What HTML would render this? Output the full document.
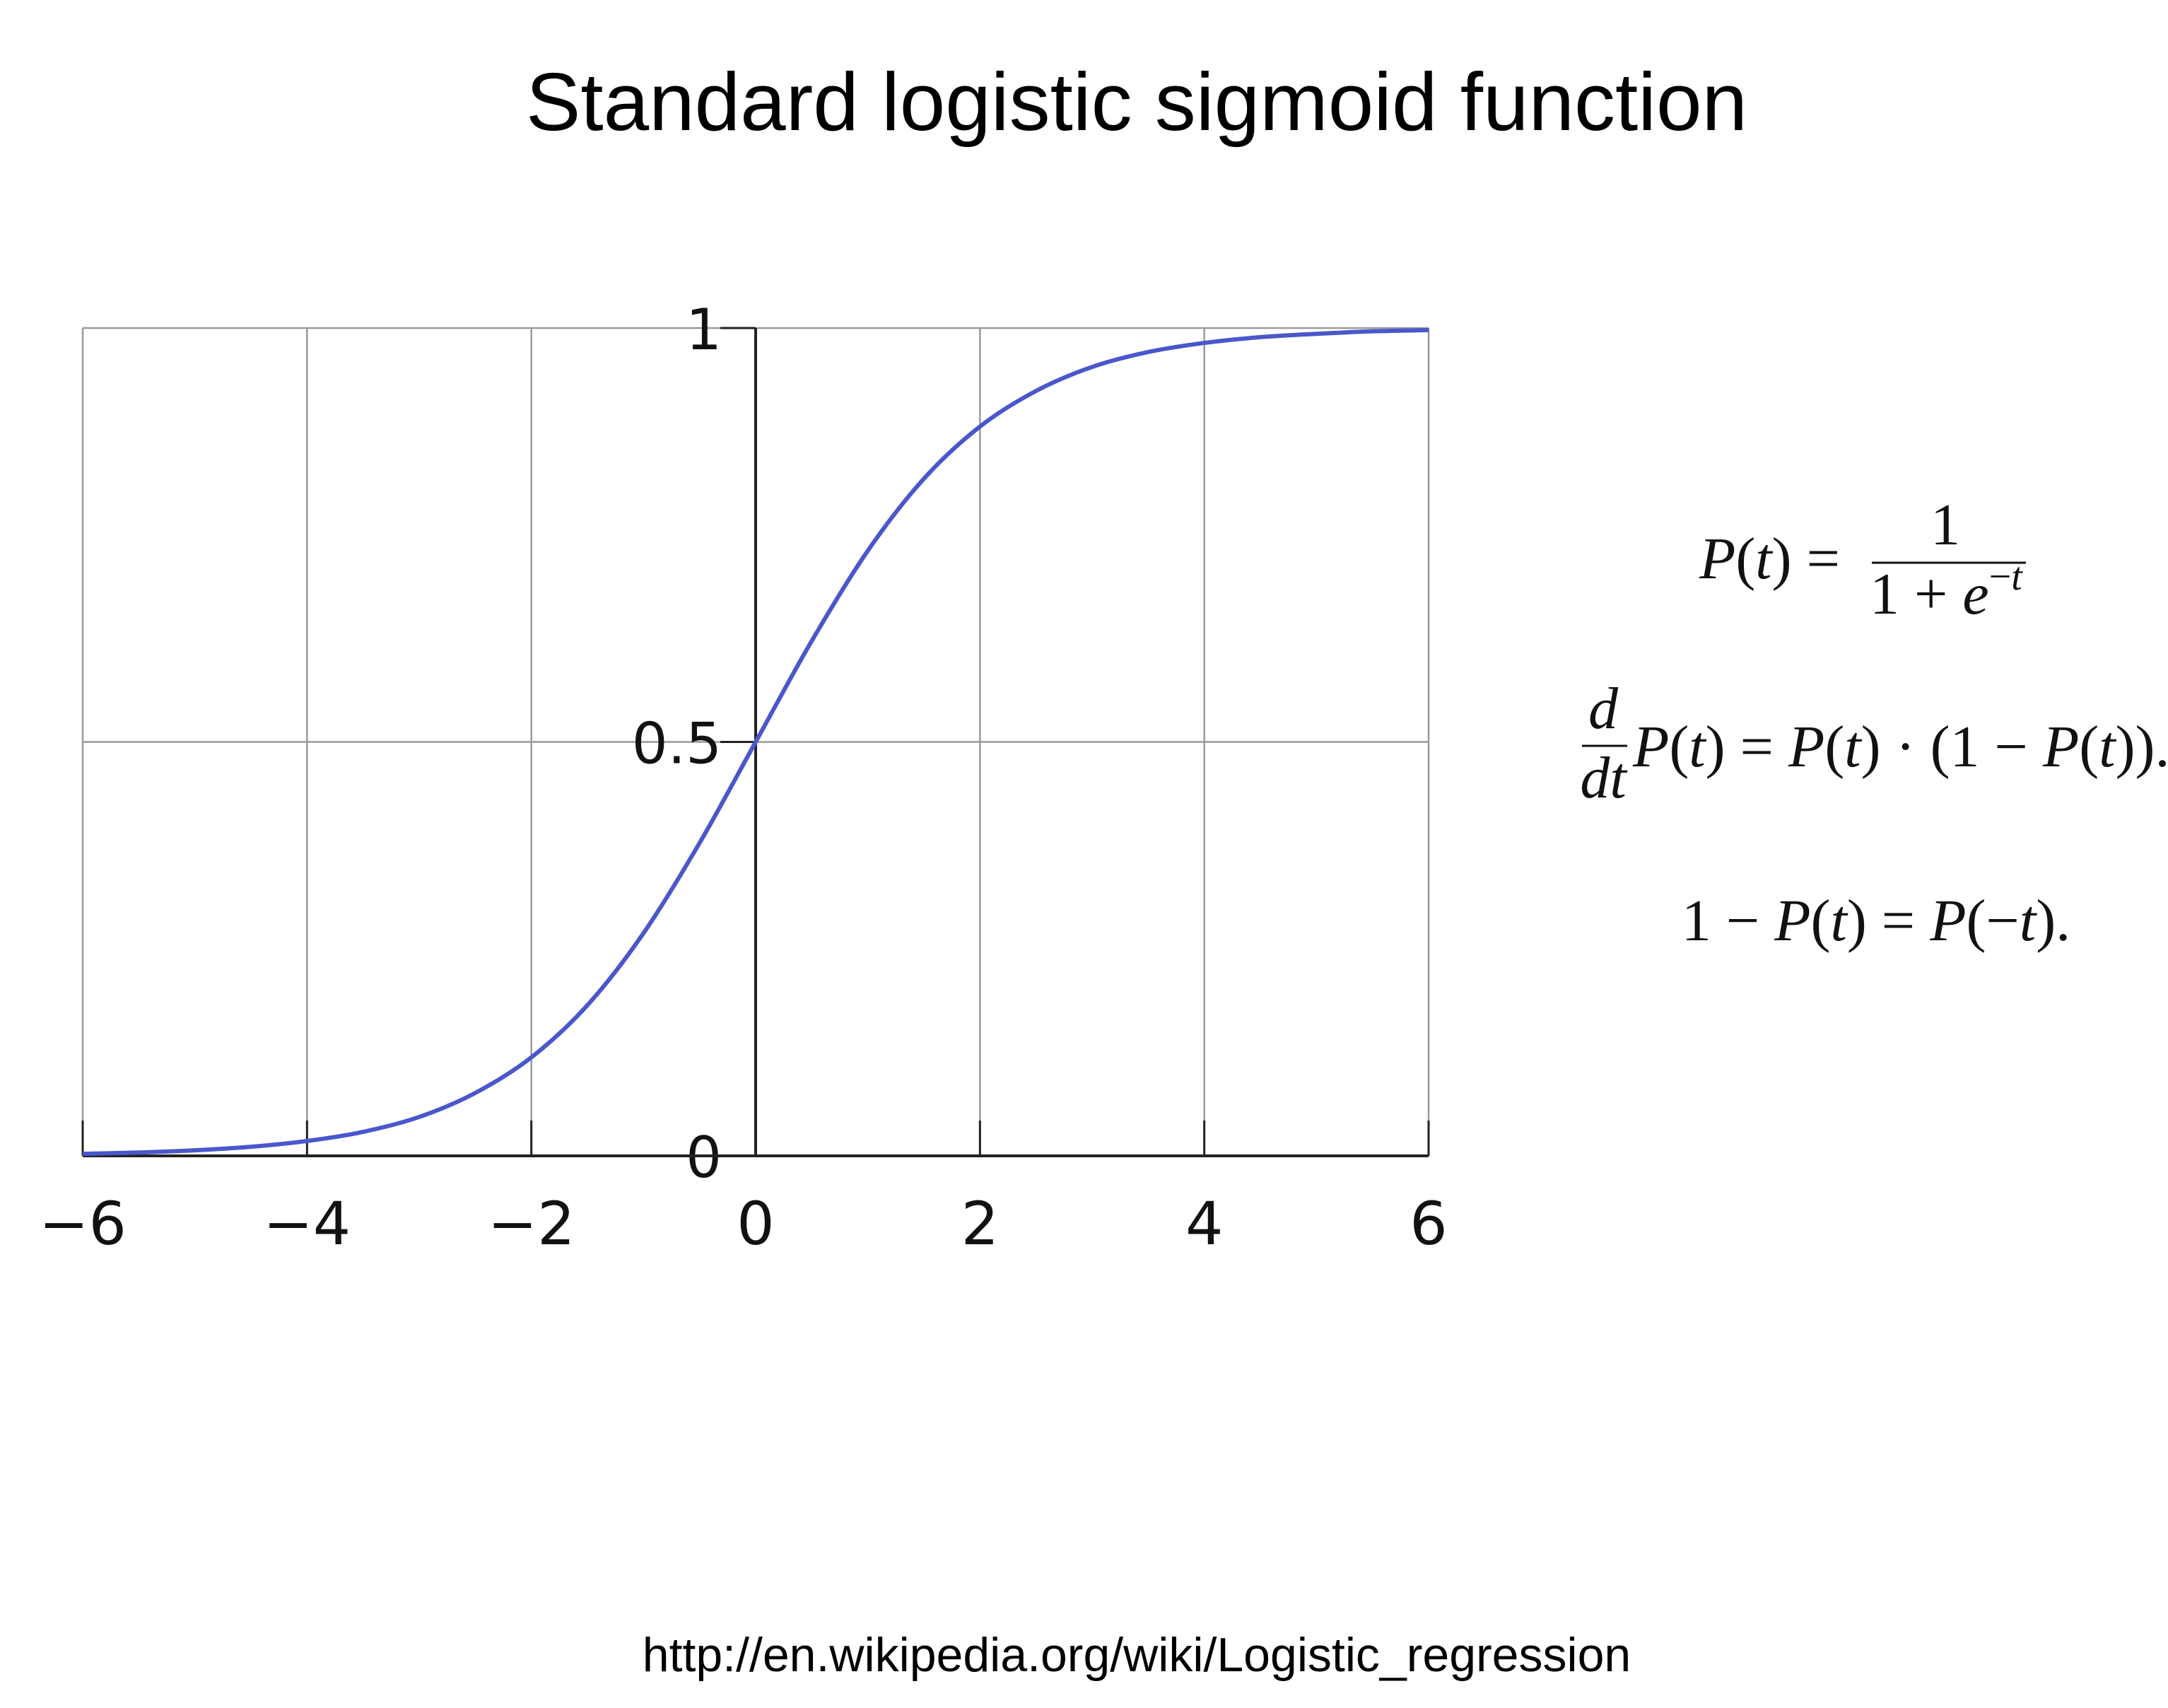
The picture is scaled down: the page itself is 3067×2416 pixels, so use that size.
<!DOCTYPE html>
<html><head><meta charset="utf-8"><style>
html,body{margin:0;padding:0;background:#fff;}
svg{display:block;}
.eq{font-family:"Liberation Serif",serif;font-size:84px;fill:#111;}
.it{font-style:italic;}
</style></head><body>
<svg id="chart" width="3067" height="2416" viewBox="0 0 3067 2416">
<text x="1608" y="184" text-anchor="middle" font-family="Liberation Sans, sans-serif" font-size="116" fill="#000">Standard logistic sigmoid function</text>
<g id="plot"></g>
<g>
<text class="eq" x="2404" y="818"><tspan class="it">P</tspan>(<tspan class="it">t</tspan>) =</text>
<text class="eq" x="2752" y="770" text-anchor="middle">1</text>
<line x1="2648" y1="796" x2="2866" y2="796" stroke="#111" stroke-width="3"/>
<text class="eq" x="2645" y="868">1 + <tspan class="it">e</tspan><tspan font-size="56" dy="-34">−<tspan class="it">t</tspan></tspan></text>
</g>
<g>
<text class="eq it" x="2268" y="1030" text-anchor="middle">d</text>
<line x1="2238" y1="1055" x2="2302" y2="1055" stroke="#111" stroke-width="3"/>
<text class="eq it" x="2268" y="1128" text-anchor="middle">dt</text>
<text class="eq" x="2310" y="1084"><tspan class="it">P</tspan>(<tspan class="it">t</tspan>) = <tspan class="it">P</tspan>(<tspan class="it">t</tspan>) · (1 − <tspan class="it">P</tspan>(<tspan class="it">t</tspan>)).</text>
</g>
<text class="eq" x="2654" y="1330" text-anchor="middle" font-size="88">1 − <tspan class="it">P</tspan>(<tspan class="it">t</tspan>) = <tspan class="it">P</tspan>(−<tspan class="it">t</tspan>).</text>
<text x="1608" y="2364" text-anchor="middle" font-family="Liberation Sans, sans-serif" font-size="68" fill="#000">http://en.wikipedia.org/wiki/Logistic_regression</text>
</svg>
<script>
const xTicks=[-6,-4,-2,0,2,4,6];
const xTickLabels=["−6","−4","−2","0","2","4","6"];
const yTicks=[0,0.5,1];
const yTickLabels=["0","0.5","1"];
const tValues=[-6,-5.5,-5,-4.5,-4,-3.5,-3,-2.5,-2,-1.5,-1,-0.5,0,0.5,1,1.5,2,2.5,3,3.5,4,4.5,5,5.5,6];
const pValues=[0.0025,0.0041,0.0067,0.011,0.018,0.029,0.047,0.076,0.119,0.182,0.269,0.378,0.5,0.622,0.731,0.818,0.881,0.924,0.953,0.971,0.982,0.989,0.993,0.996,0.9975];
const L=117,R=2021,T=464,B=1635,X0=-6,X1=6;
const sx=v=>L+(v-X0)/(X1-X0)*(R-L);
const sy=v=>B-v*(B-T);
const NS="http://www.w3.org/2000/svg";
const g=document.getElementById('plot');
function mk(tag,attrs,parent){const e=document.createElementNS(NS,tag);for(const k in attrs)e.setAttribute(k,attrs[k]);(parent||g).appendChild(e);return e;}
xTicks.forEach((v,i)=>{
 const l=mk('line',{x1:sx(v),x2:sx(v),y1:T,y2:B,stroke:'#999','stroke-width':2.5});
 
 
 const tk=mk('line',{x1:sx(v),x2:sx(v),y1:B-50,y2:B,stroke:'#222','stroke-width':3});
 
 
 const t=mk('text',{x:sx(v),y:B+125,'text-anchor':'middle','font-family':'DejaVu Sans, sans-serif','font-size':84,fill:'#111'});
 t.textContent=xTickLabels[i];
 
 
});
yTicks.forEach((v,i)=>{
 const l=mk('line',{x1:L,x2:R,y1:sy(v),y2:sy(v),stroke:'#999','stroke-width':2.5});
 
 
 const tk=mk('line',{x1:sx(0)-50,x2:sx(0),y1:sy(v),y2:sy(v),stroke:'#222','stroke-width':3});
 
 
 const t=mk('text',{x:sx(0)-48,y:sy(v)+30,'text-anchor':'end','font-family':'DejaVu Sans, sans-serif','font-size':80,fill:'#111'});
 t.textContent=yTickLabels[i];
 
 
});
const xa=mk('line',{x1:L,x2:R,y1:sy(0),y2:sy(0),stroke:'#222','stroke-width':4});


const ya=mk('line',{x1:sx(0),x2:sx(0),y1:T,y2:B,stroke:'#222','stroke-width':4});


const pts=tValues.map((t,i)=>[sx(t),sy(pValues[i])]);
let d='M'+pts[0][0]+','+pts[0][1];
for(let i=0;i<pts.length-1;i++){
 const p0=pts[Math.max(0,i-1)],p1=pts[i],p2=pts[i+1],p3=pts[Math.min(pts.length-1,i+2)];
 d+=' C'+(p1[0]+(p2[0]-p0[0])/6)+','+(p1[1]+(p2[1]-p0[1])/6)+' '+(p2[0]-(p3[0]-p1[0])/6)+','+(p2[1]-(p3[1]-p1[1])/6)+' '+p2[0]+','+p2[1];
}
const c=mk('path',{d:d,fill:'none',stroke:'#4a57cc','stroke-width':6});


</script>
</body></html>
